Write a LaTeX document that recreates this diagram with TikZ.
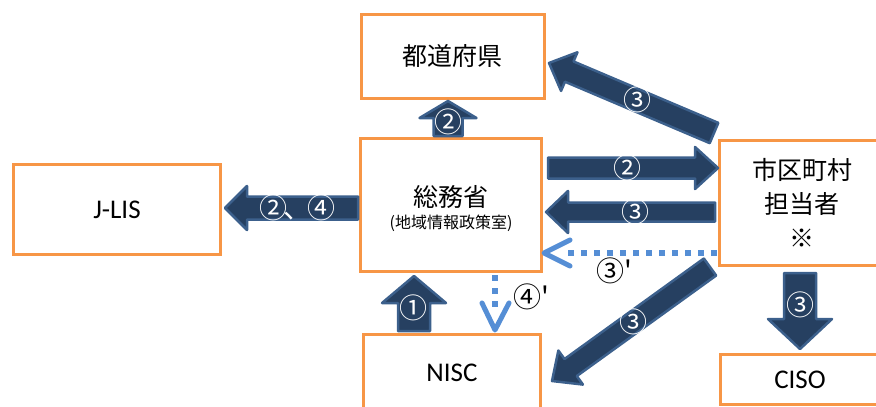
\documentclass[tikz,border=0pt]{standalone}
\usepackage{fontspec}
\setmainfont{Carlito}
\newfontfamily\jp{Noto Sans CJK JP}
\usetikzlibrary{calc}
\definecolor{orangeb}{RGB}{247,150,70}
\definecolor{navyf}{RGB}{38,64,97}
\definecolor{navyd}{RGB}{60,96,140}
\definecolor{dotblue}{RGB}{85,142,213}
% block arrow: #1 tail coord, #2 tip coord, #3 shaft half width, #4 head half width, #5 head length
\newcommand{\blkarr}[5]{%
  \coordinate (#1-b) at ($(#2)!#5!(#1)$);
  \draw[blk] ($(#1)!#3!90:(#2)$) -- ($(#1-b)!#3!90:(#2)$) -- ($(#1-b)!#4!90:(#2)$) -- (#2)
    -- ($(#1-b)!#4!-90:(#2)$) -- ($(#1-b)!#3!-90:(#2)$) -- ($(#1)!#3!-90:(#2)$) -- cycle;
}
\begin{document}
\begin{tikzpicture}[x=1pt,y=-1pt,
  box/.style={draw=orangeb, line width=3pt, fill=white, inner sep=0pt},
  jptext/.style={font=\jp\fontsize{25}{34}\selectfont},
  latext/.style={font=\fontsize{27}{30}\selectfont},
  blk/.style={fill=navyf, draw=navyd, line width=2.5pt, line join=round},
  num/.style={text=white, font=\jp\fontsize{28}{28}\selectfont, inner sep=0pt},
  numb/.style={text=black, font=\jp\fontsize{28}{28}\selectfont, inner sep=0pt},
  dotln/.style={draw=dotblue, line width=6pt, dash pattern=on 6pt off 7pt},
  chev/.style={draw=dotblue, line width=5pt, line cap=round, line join=round},
]
\useasboundingbox (0,0) rectangle (876,407);
\clip (0,0) rectangle (876,407);

% boxes
\node[box, minimum width=183pt, minimum height=84pt, jptext] (tdfk) at (452.5,56.5) {都道府県};
\node[box, minimum width=181pt, minimum height=133pt] (soumu) at (451,205) {};
\node[jptext] (soumu-t) at (451,197) {総務省};
\node[font=\jp\fontsize{16}{18}\selectfont] (soumu-s) at (451,223) {(地域情報政策室)};
\node[box, minimum width=207pt, minimum height=90pt, latext] (jlis) at (117,209.5) {J-LIS};
\node[box, minimum width=177pt, minimum height=77pt, latext] (nisc) at (452,373) {NISC};
\node[box, minimum width=165pt, minimum height=125pt, jptext, align=center] (shiku) at (802,203) {市区町村\\担当者\\※};
\node[box, minimum width=159pt, minimum height=50pt, latext] (ciso) at (800,379.5) {CISO};

% arrow end coordinates
\coordinate (a1t) at (448,136); \coordinate (a1h) at (448,101);
\coordinate (a2t) at (714,133); \coordinate (a2h) at (549,63);
\coordinate (a3t) at (548,168); \coordinate (a3h) at (718,168);
\coordinate (a4t) at (715,212); \coordinate (a4h) at (546,212);
\coordinate (a5t) at (358,208); \coordinate (a5h) at (225,208);
\coordinate (a6t) at (414,331); \coordinate (a6h) at (414,276);
\coordinate (a7t) at (710,267); \coordinate (a7h) at (552,381);
\coordinate (a8t) at (800,273); \coordinate (a8h) at (800,349);

\blkarr{a1t}{a1h}{14.5pt}{28.5pt}{17pt}
\blkarr{a2t}{a2h}{11pt}{21pt}{22pt}
\blkarr{a3t}{a3h}{10.5pt}{21pt}{23pt}
\blkarr{a4t}{a4h}{9.5pt}{21pt}{22pt}
\blkarr{a5t}{a5h}{11.5pt}{22pt}{22pt}
\blkarr{a6t}{a6h}{16pt}{32pt}{27pt}
\blkarr{a7t}{a7h}{10.5pt}{21pt}{23pt}
\blkarr{a8t}{a8h}{16pt}{32pt}{30pt}

% dotted arrows
\coordinate (d1s) at (717,253); \coordinate (d1e) at (568,253); \coordinate (d1h) at (544,253);
\draw[dotln] (d1s) -- (d1e);
\draw[chev] ($(d1h)+(26,-13)$) -- (d1h) -- ($(d1h)+(26,13)$);
\coordinate (d2s) at (495,275); \coordinate (d2e) at (495,310); \coordinate (d2h) at (495,330);
\draw[dotln] (d2s) -- (d2e);
\draw[chev] ($(d2h)+(-13,-27)$) -- (d2h) -- ($(d2h)+(14,-27)$);

% labels
\node[num] (l1) at (448,122) {②};
\node[num] (l2) at (637,100) {③};
\node[num] (l3) at (627,168) {②};
\node[num] (l4) at (635,212) {③};
\node[num] (l5) at (297,208) {②\kern-4pt、\kern-4pt④};
\node[num] (l6) at (413,308) {①};
\node[num] (l7) at (633,322) {③};
\node[num] (l8) at (800,305) {③};
\node[numb] (l9) at (614,271) {③'};
\node[numb] (l10) at (531,297) {④'};
\end{tikzpicture}
\end{document}
